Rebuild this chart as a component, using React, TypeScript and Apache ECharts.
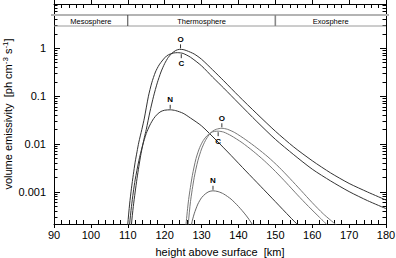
import React, { useEffect, useRef } from 'react';
import * as echarts from 'echarts';

const FONT = '"Liberation Sans", Arial, sans-serif';

const xMajorTicks = [90, 100, 110, 120, 130, 140, 150, 160, 170, 180];
const xMinorTicks = [92, 94, 96, 98, 102, 104, 106, 108, 112, 114, 116, 118, 122, 124, 126, 128, 132, 134, 136, 138, 142, 144, 146, 148, 152, 154, 156, 158, 162, 164, 166, 168, 172, 174, 176, 178];
const yMajorTicks = [0.001, 0.01, 0.1, 1];
const yTickLabels = ['0.001', '0.01', '0.1', '1'];
const yMinorTicks = [3e-4, 4e-4, 5e-4, 6e-4, 7e-4, 8e-4, 9e-4, 2e-3, 3e-3, 4e-3, 5e-3, 6e-3, 7e-3, 8e-3, 9e-3, 0.02, 0.03, 0.04, 0.05, 0.06, 0.07, 0.08, 0.09, 0.2, 0.3, 0.4, 0.5, 0.6, 0.7, 0.8, 0.9, 2, 3, 4, 5, 6, 7, 8];

const layerNames = ['Mesosphere', 'Thermosphere', 'Exosphere'];
const layerBounds = [[90, 110], [110, 150], [150, 180]];

const curveO = [[110.8, 1.3e-4], [111.0, 2.15e-4], [111.5, 5e-4], [112.0, 1e-3], [112.5, 1.9e-3], [113.0, 3.4e-3], [113.5, 5.8e-3], [114.0, 9.1e-3], [114.5, 0.0138], [115.0, 0.02], [116.0, 0.047], [117.0, 0.1], [118.0, 0.19], [119.0, 0.32], [120.0, 0.48], [121.0, 0.65], [122.0, 0.79], [123.0, 0.9], [124.0, 0.95], [125.0, 0.94], [126.0, 0.89], [128.0, 0.76], [130.0, 0.59], [133.0, 0.355], [136.0, 0.21], [140.0, 0.102], [145.0, 0.043], [150.0, 0.0186], [155.0, 8.7e-3], [160.0, 4.5e-3], [165.0, 2.5e-3], [170.0, 1.51e-3], [175.0, 1e-3], [180.0, 6.8e-4]];

const curveC = [[109.8, 1.3e-4], [110.0, 2.15e-4], [110.5, 5.6e-4], [111.0, 1.2e-3], [111.5, 2.3e-3], [112.0, 4.2e-3], [112.5, 6.9e-3], [113.0, 0.011], [113.8, 0.02], [114.5, 0.035], [115.6, 0.1], [116.5, 0.19], [117.5, 0.32], [118.5, 0.45], [119.5, 0.57], [120.5, 0.69], [121.5, 0.76], [122.5, 0.8], [123.5, 0.81], [125.0, 0.78], [127.0, 0.65], [130.0, 0.43], [133.0, 0.25], [136.0, 0.148], [140.0, 0.072], [145.0, 0.0295], [150.0, 0.0126], [155.0, 6e-3], [160.0, 3e-3], [165.0, 1.7e-3], [170.0, 1.02e-3], [175.0, 6.6e-4], [180.0, 4.5e-4]];

const curveN = [[110.3, 1.3e-4], [110.5, 2.15e-4], [111.0, 5e-4], [111.5, 1e-3], [112.0, 1.8e-3], [113.0, 4.5e-3], [114.0, 9.3e-3], [115.0, 0.0166], [116.0, 0.025], [117.0, 0.034], [118.0, 0.042], [119.0, 0.048], [120.0, 0.051], [121.5, 0.052], [123.0, 0.05], [125.0, 0.044], [127.0, 0.035], [130.0, 0.024], [134.0, 0.012], [138.0, 5.8e-3], [142.0, 2.75e-3], [146.0, 1.32e-3], [150.0, 6.3e-4], [154.0, 3e-4], [157.0, 1.75e-4]];

const curveO2 = [[126.2, 1.3e-4], [126.4, 2.15e-4], [127.0, 6.3e-4], [128.0, 2e-3], [129.0, 4.5e-3], [130.0, 7.9e-3], [131.0, 0.0117], [132.0, 0.0155], [133.0, 0.0186], [134.0, 0.0204], [135.5, 0.0214], [137.0, 0.0204], [139.0, 0.0174], [142.0, 0.0123], [145.0, 8.3e-3], [148.0, 5.4e-3], [151.0, 3.3e-3], [154.0, 1.9e-3], [157.0, 1.07e-3], [160.0, 6e-4], [163.0, 3.5e-4], [166.7, 2e-4]];

const curveC2 = [[125.6, 1.3e-4], [125.8, 2.15e-4], [126.5, 7e-4], [127.5, 2.2e-3], [128.5, 5e-3], [129.5, 8.5e-3], [130.5, 0.012], [131.5, 0.015], [132.5, 0.0174], [133.5, 0.0184], [134.5, 0.0186], [136.0, 0.0178], [138.0, 0.015], [141.0, 0.0107], [144.0, 7.1e-3], [147.0, 4.5e-3], [150.0, 2.7e-3], [153.0, 1.55e-3], [156.0, 8.7e-4], [159.0, 5e-4], [162.0, 2.95e-4], [164.5, 1.9e-4]];

const curveN2 = [[127.1, 1.3e-4], [127.3, 2.15e-4], [128.0, 3.5e-4], [129.0, 5.6e-4], [130.0, 7.6e-4], [131.0, 9.1e-4], [132.0, 1.02e-3], [133.1, 1.06e-3], [134.5, 1.02e-3], [136.0, 9.1e-4], [138.0, 7.1e-4], [140.0, 5e-4], [142.0, 3.3e-4], [143.7, 2.15e-4], [144.2, 1.7e-4]];

const peakLabelText = ['O', 'C', 'N', 'O', 'C', 'N'];
// [height km, value, direction: 1 = label above, -1 = label below]
const peakLabelPos = [[124.3, 0.95, 1], [124.5, 0.79, -1], [121.5, 0.052, 1], [135.5, 0.0214, 1], [134.5, 0.0186, -1], [133.1, 0.00106, 1]];

const Y_MIN = 0.000215;
const Y_MAX = 8.4;

export default function App() {
  const ref = useRef<HTMLDivElement>(null);
  useEffect(() => {
    if (!ref.current) return;
    const chart = echarts.init(ref.current, null, { renderer: 'svg' });
    const black = '#000';
    const baseX = { type: 'value', min: 90, max: 180, splitLine: { show: false } };
    const baseY = { type: 'log', logBase: 10, min: Y_MIN, max: Y_MAX, splitLine: { show: false } };
    const lineSeries = (data: number[][], color: string) => ({
      type: 'line', data, showSymbol: false, symbol: 'none', smooth: 0.25,
      lineStyle: { color, width: 1 }, xAxisIndex: 0, yAxisIndex: 0, z: 3, silent: true,
    });
    chart.setOption({
      animation: false,
      grid: { left: 54, top: 4, width: 332, height: 220, containLabel: false, outerBoundsMode: 'none' },
      xAxis: [
        {
          ...baseX, position: 'bottom', interval: 10,
          axisLine: { lineStyle: { color: black, width: 1 } },
          axisTick: { inside: false, length: 4, lineStyle: { color: black }, customValues: xMajorTicks },
          axisLabel: { color: black, fontSize: 11, fontFamily: FONT, margin: 5, customValues: xMajorTicks },
          name: 'height above surface  [km]', nameLocation: 'middle', nameGap: 22, nameMoveOverlap: false,
          nameTextStyle: { color: black, fontSize: 11, fontFamily: FONT },
        },
        {
          ...baseX, position: 'bottom', axisLine: { show: false },
          axisTick: { inside: true, length: 4, lineStyle: { color: black }, customValues: xMinorTicks },
          axisLabel: { show: false },
        },
        {
          ...baseX, position: 'top', axisLine: { lineStyle: { color: black, width: 1 } },
          axisTick: { inside: true, length: 4, lineStyle: { color: black }, customValues: xMinorTicks },
          axisLabel: { show: false },
        },
        {
          ...baseX, position: 'top', axisLine: { show: false },
          axisTick: { inside: false, length: 4, lineStyle: { color: black }, customValues: xMajorTicks },
          axisLabel: { show: false },
        },
      ],
      yAxis: [
        {
          ...baseY, position: 'left',
          axisLine: { lineStyle: { color: black, width: 1 } },
          axisTick: { inside: true, length: 6, lineStyle: { color: black }, customValues: yMajorTicks },
          axisLabel: {
            color: black, fontSize: 11, fontFamily: FONT, margin: 8, customValues: yMajorTicks,
            formatter: (v: number) => {
              const i = yMajorTicks.findIndex((t) => Math.abs(Math.log10(t) - Math.log10(v)) < 1e-6);
              return i >= 0 ? yTickLabels[i] : '';
            },
          },
          name: 'volume emissivity  [ph cm{sup|-3} s{sup|-1}]', nameLocation: 'middle', nameGap: 40, nameMoveOverlap: false,
          nameTextStyle: {
            color: black, fontSize: 11, fontFamily: FONT, lineHeight: 13,
            rich: { sup: { fontSize: 8, fontFamily: FONT, color: black, verticalAlign: 'top', lineHeight: 8 } },
          },
        },
        {
          ...baseY, position: 'left', axisLine: { show: false },
          axisTick: { inside: true, length: 3.5, lineStyle: { color: black }, customValues: yMinorTicks },
          axisLabel: { show: false },
        },
        {
          ...baseY, position: 'right', axisLine: { lineStyle: { color: black, width: 1 } },
          axisTick: { inside: true, length: 6, lineStyle: { color: black }, customValues: yMajorTicks },
          axisLabel: { show: false },
        },
        {
          ...baseY, position: 'right', axisLine: { show: false },
          axisTick: { inside: true, length: 3.5, lineStyle: { color: black }, customValues: yMinorTicks },
          axisLabel: { show: false },
        },
      ],
      series: [
        lineSeries(curveO, '#333'),
        lineSeries(curveC, '#333'),
        lineSeries(curveN, '#333'),
        lineSeries(curveO2, '#777'),
        lineSeries(curveC2, '#777'),
        lineSeries(curveN2, '#666'),
        {
          type: 'custom', xAxisIndex: 0, yAxisIndex: 0, silent: true, z: 5,
          data: layerBounds.map((b) => [b[0], b[1], 1]),
          encode: { x: [0, 1], y: 2 },
          renderItem: (params: any, api: any) => {
            const cs = params.coordSys;
            const x0 = api.coord([api.value(0), 1])[0];
            const x1 = api.coord([api.value(1), 1])[0];
            const top = cs.y + 11;
            const bot = cs.y + 22;
            const children: any[] = [];
            if (params.dataIndex === 0) {
              children.push({ type: 'line', shape: { x1: cs.x - 3, y1: top, x2: cs.x + cs.width + 3, y2: top }, style: { stroke: '#b4b4b4', lineWidth: 2 } });
              children.push({ type: 'line', shape: { x1: cs.x, y1: bot, x2: cs.x + cs.width, y2: bot }, style: { stroke: '#9a9a9a', lineWidth: 1 } });
            } else {
              children.push({ type: 'line', shape: { x1: x0, y1: top, x2: x0, y2: bot }, style: { stroke: params.dataIndex === 1 ? '#444' : '#888', lineWidth: params.dataIndex === 1 ? 1 : 1.6 } });
            }
            children.push({
              type: 'text', x: (x0 + x1) / 2, y: (top + bot) / 2 + 0.5,
              style: { text: layerNames[params.dataIndex], fill: '#000', fontSize: 7.5, fontFamily: FONT, align: 'center', verticalAlign: 'middle' },
            });
            return { type: 'group', children };
          },
        },
        {
          type: 'custom', xAxisIndex: 0, yAxisIndex: 0, silent: true, z: 6,
          data: peakLabelPos,
          encode: { x: 0, y: 1 },
          renderItem: (params: any, api: any) => {
            const p = api.coord([api.value(0), api.value(1)]);
            const dir = api.value(2);
            const t0 = p[1] - dir * 1;
            const t1 = p[1] - dir * 5;
            return {
              type: 'group',
              children: [
                { type: 'line', shape: { x1: p[0], y1: t0, x2: p[0], y2: t1 }, style: { stroke: '#333', lineWidth: 1 } },
                {
                  type: 'text', x: p[0], y: t1 - dir * 1,
                  style: { text: peakLabelText[params.dataIndex], fill: '#000', fontSize: 8, fontWeight: 'bold', fontFamily: FONT, align: 'center', verticalAlign: dir > 0 ? 'bottom' : 'top' },
                },
              ],
            };
          },
        },
      ],
    });
    return () => chart.dispose();
  }, []);
  return <div ref={ref} style={{ width: 396, height: 258, position: 'absolute', left: 0, top: 0 }} />;
}
